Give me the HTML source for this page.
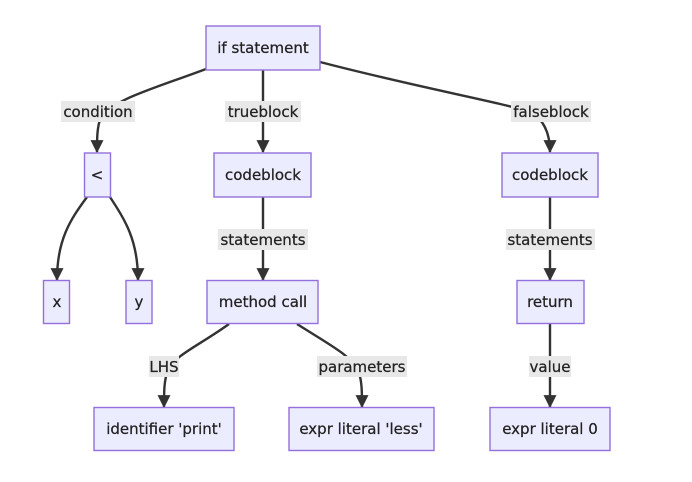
<!DOCTYPE html>
<html><head><style>
body{margin:0;background:#fff}
svg{display:block}
text{font-family:"DejaVu Sans","Liberation Sans",sans-serif;font-size:15px;fill:#222;text-anchor:middle;dominant-baseline:central;stroke:#222;stroke-width:0.25}
.n{fill:#ECECFF;stroke:#9370DB;stroke-width:1.4}
.e{fill:none;stroke:#333;stroke-width:2.4}
.l{fill:#e8e8e8}
</style></head><body>
<svg width="692" height="482" viewBox="0 0 692 482" xmlns="http://www.w3.org/2000/svg">
<defs>
<marker id="b" viewBox="0 0 12 12" refX="11" refY="6" markerWidth="13" markerHeight="13" orient="auto" markerUnits="userSpaceOnUse"><path d="M0,0L12,6L0,12z" fill="#333"/></marker></defs>
<path class="e" d="M206,69 C150,90 110,100 100,120 C97,128 97,140 97,152" marker-end="url(#b)"/>
<path class="e" d="M263,70 L263,152" marker-end="url(#b)"/>
<path class="e" d="M320,62 C420,88 500,102 530,112 C545,120 550,135 550,152" marker-end="url(#b)"/>
<path class="e" d="M87,197 C70,220 57,240 57,280" marker-end="url(#b)"/>
<path class="e" d="M110,197 C125,220 138,240 138,280" marker-end="url(#b)"/>
<path class="e" d="M263,197 L263,280" marker-end="url(#b)"/>
<path class="e" d="M550,197 L550,280" marker-end="url(#b)"/>
<path class="e" d="M229,324 C200,345 175,355 168,370 C164,380 164,392 164,407" marker-end="url(#b)"/>
<path class="e" d="M297,324 C330,345 350,355 358,370 C362,380 362,392 362,407" marker-end="url(#b)"/>
<path class="e" d="M550,324 L550,407" marker-end="url(#b)"/>
<rect class="l" x="61" y="101" width="74" height="21"/><text x="98" y="112">condition</text>
<rect class="l" x="225" y="101" width="76" height="21"/><text x="263" y="112">trueblock</text>
<rect class="l" x="511" y="101" width="80" height="21"/><text x="551" y="112">falseblock</text>
<rect class="l" x="218" y="229" width="90" height="21"/><text x="263" y="240">statements</text>
<rect class="l" x="506" y="229" width="89" height="21"/><text x="550" y="240">statements</text>
<rect class="l" x="149" y="356" width="30" height="21"/><text x="164" y="367">LHS</text>
<rect class="l" x="317" y="356" width="90" height="21"/><text x="362" y="367">parameters</text>
<rect class="l" x="529" y="356" width="42" height="21"/><text x="550" y="367">value</text>
<rect class="n" x="206" y="26" width="114" height="44"/><text x="263" y="48">if statement</text>
<rect class="n" x="84.5" y="153" width="26" height="44"/><text x="97" y="175">&lt;</text>
<rect class="n" x="214" y="153" width="97" height="44"/><text x="263" y="175">codeblock</text>
<rect class="n" x="502" y="153" width="96" height="44"/><text x="550" y="175">codeblock</text>
<rect class="n" x="43.5" y="280.5" width="26" height="43"/><text x="57" y="302">x</text>
<rect class="n" x="126" y="280.5" width="26" height="43"/><text x="139" y="302">y</text>
<rect class="n" x="207" y="280.5" width="111" height="43"/><text x="263" y="302">method call</text>
<rect class="n" x="517" y="280.5" width="67" height="43"/><text x="550" y="302">return</text>
<rect class="n" x="94" y="407.5" width="140" height="43"/><text x="164" y="429">identifier 'print'</text>
<rect class="n" x="289" y="407.5" width="145" height="43"/><text x="361" y="429">expr literal 'less'</text>
<rect class="n" x="490" y="407.5" width="120" height="43"/><text x="550" y="429">expr literal 0</text>
</svg>
</body></html>
